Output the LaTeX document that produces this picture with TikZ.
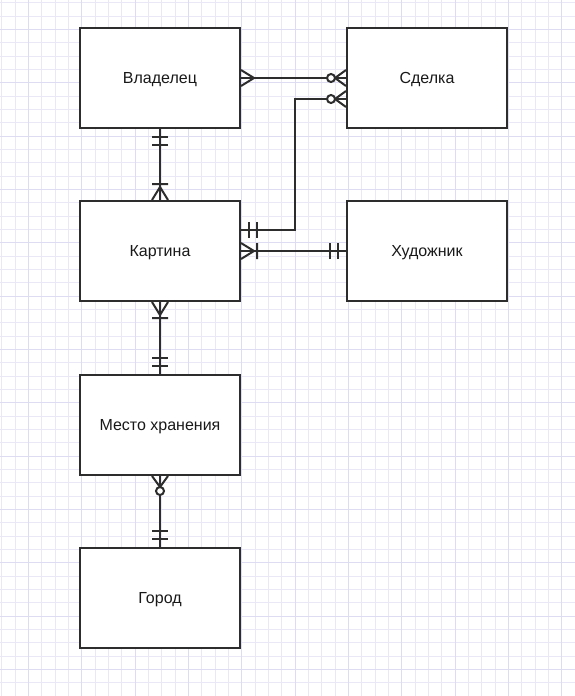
\documentclass[tikz,border=0pt]{standalone}
\usepackage{fontspec}
\setmainfont{Liberation Sans}
\definecolor{gridminor}{RGB}{234,232,247}
\definecolor{gridmajor}{RGB}{222,220,242}
\definecolor{ink}{RGB}{45,45,45}
\begin{document}
\begin{tikzpicture}[x=1pt,y=-1pt,
  box/.style={draw=ink, line width=2pt, fill=white, minimum width=160pt, minimum height=100pt, inner sep=0pt, text height=11.5pt, text depth=0.5pt, font=\fontsize{16}{19}\selectfont, text=black!90},
  conn/.style={draw=ink, line width=2pt},
  ermark/.style={draw=ink, line width=2pt},
  pics/ermandone/.style={code={\draw[ermark] (8,-8) -- (8,8) (16,-8) -- (16,8);}},
  pics/ermany/.style={code={\draw[ermark] (0,-8) -- (13,0) -- (0,8);}},
  pics/eronemany/.style={code={\draw[ermark] (0,-8) -- (13,0) -- (0,8) (16,-8) -- (16,8);}},
  pics/erzeromany/.style={code={\draw[ermark] (0,-8) -- (11,0) -- (0,8); \draw[ermark, fill=white] (15,0) circle (4pt);}}
]
\useasboundingbox (0,0) rectangle (575,696);
\fill[white] (0,0) rectangle (575,696);
% grid
\foreach \i in {0,...,43} {
  \pgfmathsetmacro\xx{1.67+13.333*\i}
  \draw[gridminor, line width=0.8pt] (\xx,0) -- (\xx,696);
}
\foreach \j in {0,...,52} {
  \pgfmathsetmacro\yy{2.67+13.333*\j}
  \draw[gridminor, line width=0.8pt] (0,\yy) -- (575,\yy);
}
\foreach \i in {0,...,10} {
  \pgfmathsetmacro\xx{28.33+53.333*\i}
  \draw[gridmajor, line width=0.9pt] (\xx,0) -- (\xx,696);
}
\foreach \j in {0,...,13} {
  \pgfmathsetmacro\yy{29.33+53.333*\j}
  \draw[gridmajor, line width=0.9pt] (0,\yy) -- (575,\yy);
}
% boxes
\node[box] (vl) at (160,78) {Владелец};
\node[box] (sd) at (427,78) {Сделка};
\node[box] (kt) at (160,251) {Картина};
\node[box] (hd) at (427,251) {Художник};
\node[box] (mh) at (160,425) {Место хранения};
\node[box] (gr) at (160,598) {Город};
% connectors
\draw[conn] (vl.east) -- (sd.west);
\draw[conn] ([yshift=21pt]kt.east) -- ++(54,0) |- ([yshift=-21pt]sd.west);
\draw[conn] (kt.east) -- (hd.west);
\draw[conn] (vl.south) -- (kt.north);
\draw[conn] (kt.south) -- (mh.north);
\draw[conn] (mh.south) -- (gr.north);
% markers
\pic at (vl.east) {ermany};
\pic[rotate=180] at (sd.west) {erzeromany};
\pic at ([yshift=21pt]kt.east) {ermandone};
\pic[rotate=180] at ([yshift=-21pt]sd.west) {erzeromany};
\pic at (kt.east) {eronemany};
\pic[rotate=180] at (hd.west) {ermandone};
\pic[rotate=-90] at (vl.south) {ermandone};
\pic[rotate=90] at (kt.north) {eronemany};
\pic[rotate=-90] at (kt.south) {eronemany};
\pic[rotate=90] at (mh.north) {ermandone};
\pic[rotate=-90] at (mh.south) {erzeromany};
\pic[rotate=90] at (gr.north) {ermandone};
\end{tikzpicture}
\end{document}
